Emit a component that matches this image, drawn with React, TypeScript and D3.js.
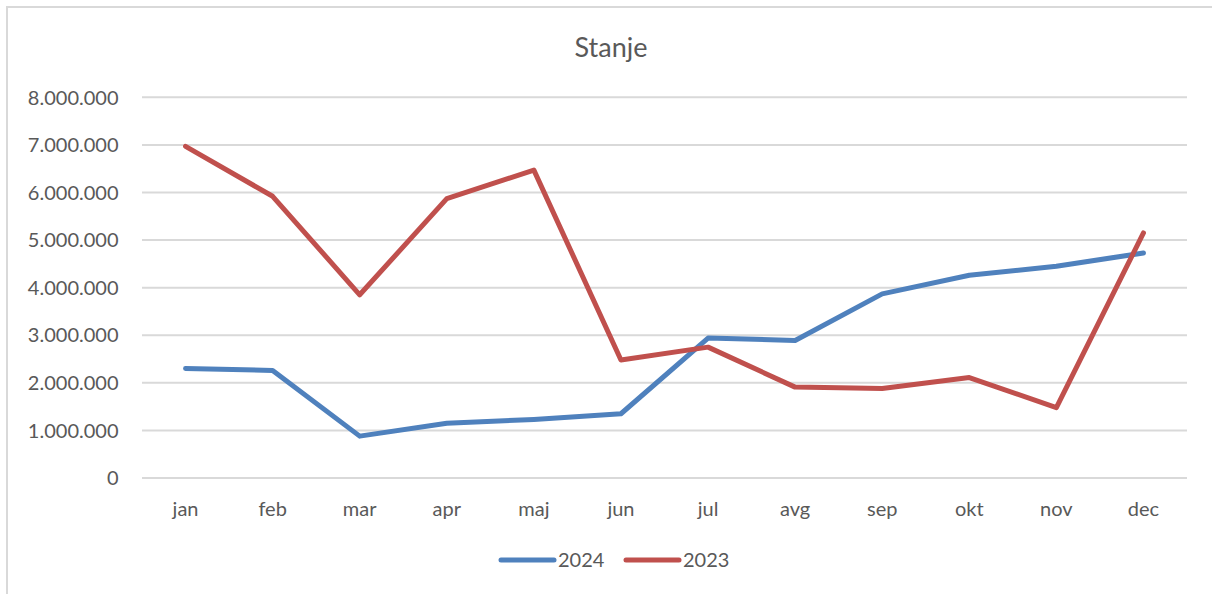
import { useEffect, useRef } from 'react';
import * as d3 from 'd3';

// months as shown on the x axis
const months = ['jan', 'feb', 'mar', 'apr', 'maj', 'jun', 'jul', 'avg', 'sep', 'okt', 'nov', 'dec'];
// values
const values2024 = [2300000, 2260000, 880000, 1150000, 1230000, 1350000, 2940000, 2890000, 3870000, 4260000, 4450000, 4730000];
const values2023 = [6970000, 5920000, 3850000, 5870000, 6470000, 2480000, 2750000, 1910000, 1880000, 2110000, 1480000, 5150000];
const yTicks = [0, 1000000, 2000000, 3000000, 4000000, 5000000, 6000000, 7000000, 8000000];
const seriesNames = ['2024', '2023'];

const W = 1212;
const H = 594;
const FONT = 'Lato, "Open Sans", sans-serif';
const TEXT = '#595959';
const GRID = '#D9D9D9';
const COLORS = ['#4F81BD', '#C0504D'];

const App = () => {
  const svgRef = useRef<SVGSVGElement | null>(null);

  useEffect(() => {
    const svg = d3.select(svgRef.current);
    svg.selectAll('*').remove();

    const plot = { left: 142, right: 1187, top: 97.3, bottom: 478 };

    const x = d3.scaleBand<string>()
      .domain(months)
      .range([plot.left, plot.right]);

    const y = d3.scaleLinear()
      .domain([0, 8000000])
      .range([plot.bottom, plot.top]);

    // frame of the chart area (cut off on the right and bottom)
    svg.append('rect')
      .attr('x', 7)
      .attr('y', 7)
      .attr('width', W + 20)
      .attr('height', H + 20)
      .attr('fill', 'white')
      .attr('stroke', GRID)
      .attr('stroke-width', 2);

    svg.append('text')
      .attr('x', 611)
      .attr('y', 56.5)
      .attr('text-anchor', 'middle')
      .attr('font-family', FONT)
      .attr('font-size', 27)
      .attr('fill', TEXT)
      .text('Stanje');

    // gridlines + y labels
    const fmt = (v: number) => d3.format(',')(v).replace(/,/g, '.');
    const gy = svg.append('g');
    gy.selectAll('line')
      .data(yTicks)
      .enter()
      .append('line')
      .attr('x1', plot.left)
      .attr('x2', plot.right)
      .attr('y1', d => y(d))
      .attr('y2', d => y(d))
      .attr('stroke', GRID)
      .attr('stroke-width', 2);

    gy.selectAll('text')
      .data(yTicks)
      .enter()
      .append('text')
      .attr('x', 118.5)
      .attr('y', d => y(d))
      .attr('dy', '0.36em')
      .attr('text-anchor', 'end')
      .attr('font-family', FONT)
      .attr('font-size', 20)
      .attr('fill', TEXT)
      .text(d => fmt(d));

    // month labels
    svg.append('g')
      .selectAll('text')
      .data(months)
      .enter()
      .append('text')
      .attr('x', d => (x(d) as number) + x.bandwidth() / 2)
      .attr('y', 516)
      .attr('text-anchor', 'middle')
      .attr('font-family', FONT)
      .attr('font-size', 20)
      .attr('fill', TEXT)
      .text(d => d);

    const line = d3.line<number>()
      .x((_, i) => (x(months[i]) as number) + x.bandwidth() / 2)
      .y(d => y(d));

    [values2024, values2023].forEach((vals, i) => {
      svg.append('path')
        .datum(vals)
        .attr('d', line)
        .attr('fill', 'none')
        .attr('stroke', COLORS[i])
        .attr('stroke-width', 5)
        .attr('stroke-linejoin', 'round')
        .attr('stroke-linecap', 'round');
    });

    // legend
    const legendX = [501, 626];
    const lg = svg.append('g');
    seriesNames.forEach((name, i) => {
      lg.append('line')
        .attr('x1', legendX[i])
        .attr('x2', legendX[i] + 53)
        .attr('y1', 560)
        .attr('y2', 560)
        .attr('stroke', COLORS[i])
        .attr('stroke-width', 5)
        .attr('stroke-linecap', 'round');
      lg.append('text')
        .attr('x', legendX[i] + 57)
        .attr('y', 560)
        .attr('dy', '0.36em')
        .attr('font-family', FONT)
        .attr('font-size', 20)
        .attr('fill', TEXT)
        .text(name);
    });
  }, []);

  return (
    <div style={{ position: 'fixed', left: 0, top: 0 }}>
      <svg ref={svgRef} width={W} height={H} style={{ display: 'block', background: 'white' }} />
    </div>
  );
};

export default App;
